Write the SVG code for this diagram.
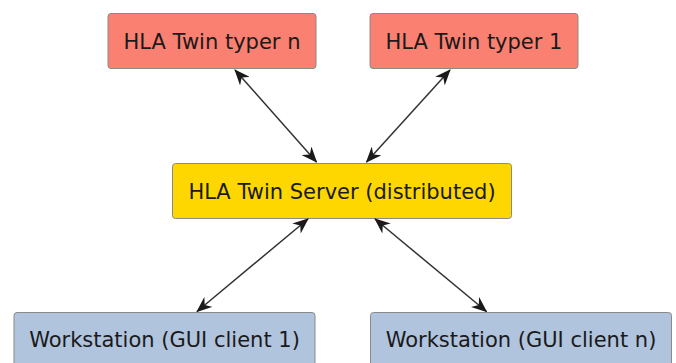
<svg xmlns="http://www.w3.org/2000/svg" width="676" height="363" viewBox="0 0 676 363">
<defs>
<style>
.box{stroke:#8a8a8a;stroke-width:1}
.typer{fill:#fa8072}
.server{fill:#ffd700}
.ws{fill:#b0c4de}
.lbl{font-family:"DejaVu Sans",Verdana,sans-serif;font-size:21px;fill:#1a1a1a;text-anchor:middle}
.edge{stroke:#333;stroke-width:1.5;fill:none;marker-start:url(#ah);marker-end:url(#ah)}
</style>
<marker id="ah" markerUnits="userSpaceOnUse" markerWidth="16" markerHeight="13" refX="15" refY="6.5" orient="auto-start-reverse" viewBox="0 0 16 13">
<path d="M0,0 L16,6.5 L0,13 L5,6.5 z" fill="#1a1a1a"/>
</marker>
</defs>
<rect width="676" height="363" fill="#fff"/>
<g id="typer_n"><rect class="box typer" x="108" y="13.5" width="208" height="55" rx="3"/><text class="lbl" x="212" y="48.5">HLA Twin typer n</text></g>
<g id="typer_1"><rect class="box typer" x="370" y="13.5" width="208" height="55" rx="3"/><text class="lbl" x="474" y="48.5">HLA Twin typer 1</text></g>
<g id="server"><rect class="box server" x="172.5" y="163.5" width="339" height="55" rx="3"/><text class="lbl" x="342" y="198.5">HLA Twin Server (distributed)</text></g>
<g id="ws1"><rect class="box ws" x="14" y="312.5" width="301" height="56" rx="3"/><text class="lbl" x="164.5" y="347">Workstation (GUI client 1)</text></g>
<g id="wsn"><rect class="box ws" x="370.5" y="312.5" width="301" height="56" rx="3"/><text class="lbl" x="521" y="347">Workstation (GUI client n)</text></g>
<g id="connectors">
<line class="edge" x1="235" y1="70" x2="316.5" y2="162"/>
<line class="edge" x1="450" y1="70" x2="366.5" y2="162"/>
<line class="edge" x1="308" y1="219" x2="197" y2="311.5"/>
<line class="edge" x1="375" y1="219" x2="486.5" y2="311.5"/>
</g>
</svg>
